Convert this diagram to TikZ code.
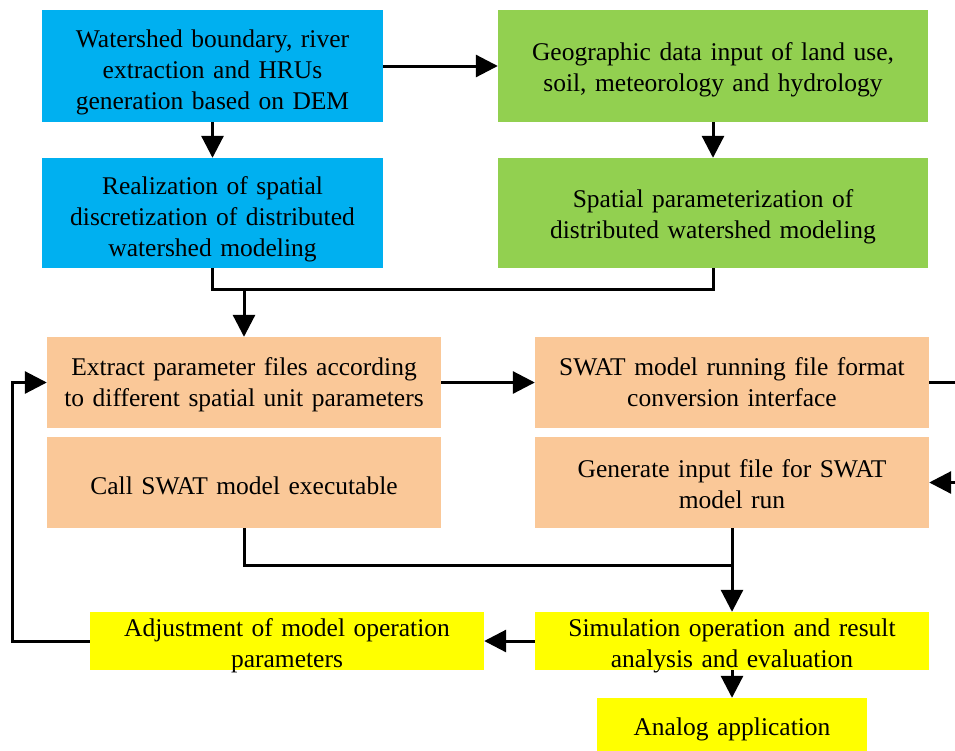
\documentclass[tikz,border=0pt]{standalone}
\usepackage{fontspec}
\setmainfont{Liberation Serif}
\usetikzlibrary{arrows.meta}
\definecolor{cblue}{HTML}{00B0F0}
\definecolor{cgreen}{HTML}{92D050}
\definecolor{corange}{HTML}{FAC898}
\definecolor{cyellow}{HTML}{FFFF00}
\tikzset{
  box/.style={draw=none, inner sep=0pt, align=center, font=\fontsize{25.5}{31}\selectfont},
  tb/.style 2 args={text height=#1, text depth=#2},
  conn/.style={line width=3pt, draw=black},
  arr/.style={conn, -{Triangle[length=22pt,width=22pt]}},
}
\begin{document}
\begin{tikzpicture}[x=1pt,y=1pt]
\useasboundingbox (0,0) rectangle (955,-750);
\clip (0,0) rectangle (955,-750);
% nodes
\node[box, tb={20pt}{58pt}, fill=cblue, minimum width=341pt, minimum height=112pt, text width=335pt] (b1) at (212.5,-66) {Watershed boundary, river\\extraction and HRUs\\generation based on DEM};
\node[box, tb={20pt}{32pt}, fill=cgreen, minimum width=430pt, minimum height=112pt, text width=420pt] (g1) at (713,-66) {Geographic data input of land use,\\soil, meteorology and hydrology};
\node[box, tb={20pt}{57pt}, fill=cblue, minimum width=341pt, minimum height=110pt, text width=335pt] (b2) at (212.5,-213) {Realization of spatial\\discretization of distributed\\watershed modeling};
\node[box, tb={20pt}{31pt}, fill=cgreen, minimum width=430pt, minimum height=110pt, text width=420pt] (g2) at (713,-213) {Spatial parameterization of\\distributed watershed modeling};
\node[box, tb={20pt}{35pt}, fill=corange, minimum width=394pt, minimum height=91pt, text width=390pt] (o1) at (244,-382.5) {Extract parameter files according\\to different spatial unit parameters};
\node[box, tb={20pt}{35pt}, fill=corange, minimum width=394pt, minimum height=91pt, text width=390pt] (o2) at (732,-382.5) {SWAT model running file format\\conversion interface};
\node[box, tb={24pt}{1pt}, fill=corange, minimum width=394pt, minimum height=91pt, text width=390pt] (o3) at (244,-482.5) {Call SWAT model executable};
\node[box, tb={20pt}{31pt}, fill=corange, minimum width=394pt, minimum height=91pt, text width=390pt] (o4) at (732,-482.5) {Generate input file for SWAT\\model run};
\node[box, tb={20pt}{30pt}, fill=cyellow, minimum width=394pt, minimum height=58pt, text width=390pt] (y1) at (287,-641) {Adjustment of model operation\\parameters};
\node[box, tb={20pt}{30pt}, fill=cyellow, minimum width=394pt, minimum height=58pt, text width=390pt] (y2) at (732,-641) {Simulation operation and result\\analysis and evaluation};
\node[box, tb={20pt}{8pt}, fill=cyellow, minimum width=270pt, minimum height=62pt, text width=265pt] (y3) at (732,-729) {Analog application};
% junction coordinates
\coordinate (m1) at (244,-289);
\coordinate (m2) at (732,-565);
\coordinate (r1) at (975,-382.5);
\coordinate (l1) at (12,-641);
% connectors
\draw[arr] (b1.east) -- (g1.west);
\draw[arr] (b1.south) -- (b2.north);
\draw[arr] (g1.south) -- (g2.north);
\draw[conn] (b2.south) |- (m1);
\draw[conn] (g2.south) |- (m1);
\draw[arr] (m1) -- (o1.north);
\draw[arr] (o1.east) -- (o2.west);
\draw[arr] (o2.east) -- (r1) |- (o4.east);
\draw[conn] (o3.south) |- (m2);
\draw[arr] (o4.south) -- (y2.north);
\draw[arr] (y2.west) -- (y1.east);
\draw[arr] (y1.west) -- (l1) |- (o1.west);
\draw[arr] (y2.south) -- (y3.north);
\end{tikzpicture}
\end{document}
